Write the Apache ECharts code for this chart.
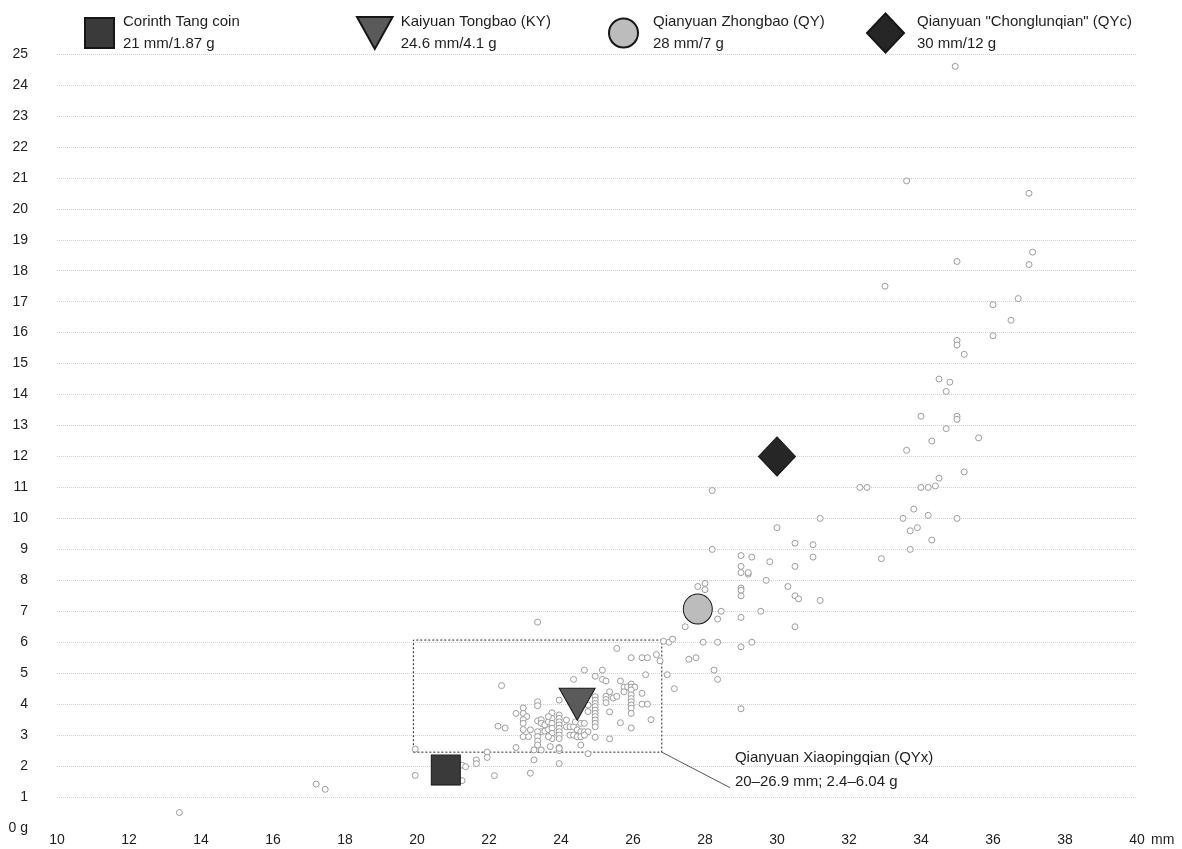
<!DOCTYPE html>
<html>
<head>
<meta charset="utf-8">
<script src="https://cdn.jsdelivr.net/npm/echarts@6/dist/echarts.min.js"></script>
<style>
  html, body { margin: 0; padding: 0; background: #fff; }
  #grafics { width: 1182px; height: 849px; }
</style>
</head>
<body>
<div id="grafics"></div>
<script>
// coins (diameter mm, weight g) as drawn on the picture
var coinNames = ['Corinth Tang coin', 'Kaiyuan Tongbao (KY)', 'Qianyuan Zhongbao (QY)', 'Qianyuan "Chonglunqian" (QYc)'];
var coinSubs = ['21 mm/1.87 g', '24.6 mm/4.1 g', '28 mm/7 g', '30 mm/12 g'];
var coinPoints = [[20.8, 1.87], [24.45, 4.0], [27.8, 7.07], [30.0, 12.0]];

// measured specimens (mm, g)
var specimens = [
  [13.4,0.5],[17.2,1.42],[17.45,1.25],[19.95,1.7],[19.95,2.55],
  [21.25,1.53],[21.25,2.03],[21.35,1.98],[21.65,2.2],[21.65,2.08],[21.95,2.45],[21.95,2.28],[22.15,1.69],
  [22.75,2.6],[23.15,1.77],[23.25,2.2],[23.95,2.08],[24.75,2.4],[23.25,2.52],[23.45,2.52],[23.7,2.63],
  [23.95,2.6],[23.95,2.5],
  [22.35,4.6],[22.25,3.29],[22.45,3.23],[22.75,3.7],[22.95,3.88],[22.95,3.7],[23.05,3.6],[22.95,3.5],
  [22.95,3.38],[22.95,3.18],[22.95,2.95],[23.1,2.95],[23.15,3.17],[23.35,4.08],[23.35,3.95],[23.35,3.46],
  [23.45,3.5],[23.45,3.38],[23.45,3.11],[23.55,3.13],[23.65,3.18],[23.35,3.11],[23.35,2.95],[23.35,2.81],
  [23.35,2.68],[23.55,3.33],[23.65,3.43],[23.75,3.54],[23.75,3.72],[23.65,3.6],[23.75,3.38],[23.75,3.22],
  [23.75,3.06],[23.75,2.89],[23.65,2.95],
  [23.95,4.13],[23.95,3.65],[23.95,3.54],[23.95,3.43],[23.95,3.33],[23.95,3.22],[23.95,3.11],[23.95,3.0],
  [23.95,2.89],[23.95,2.57],
  [24.15,3.49],[24.15,3.27],[24.25,3.27],[24.35,3.27],[24.25,3.0],[24.35,3.0],[24.4,3.43],[24.55,3.38],
  [24.65,3.38],[24.45,3.17],[24.55,3.11],[24.65,3.11],[24.75,3.11],[24.45,2.95],[24.55,2.95],[24.65,3.0],
  [24.55,2.68],[24.35,4.8],[24.65,5.1],[24.95,4.9],[25.15,5.1],[25.15,4.8],[25.25,4.75],[24.75,3.97],[24.75,3.76],
  [24.95,4.24],[24.95,4.13],[24.95,4.02],[24.95,3.92],[24.95,3.81],[24.95,3.7],[24.95,3.6],[24.95,3.49],
  [24.95,3.38],[24.95,3.27],[24.95,2.93],
  [25.35,4.4],[25.25,4.25],[25.25,4.15],[25.25,4.05],[25.45,4.2],[25.55,4.25],[25.35,3.75],[25.65,3.4],
  [25.35,2.88],[25.55,5.8],[25.65,4.75],[25.75,4.55],[25.75,4.4],[25.85,4.56],[25.95,4.65],[25.95,4.55],
  [26.05,4.55],[25.95,4.46],
  [25.95,4.3],[25.95,4.18],[25.95,4.08],[25.95,3.97],[25.95,3.87],[25.95,3.7],[25.95,3.23],
  [26.25,4.35],[26.25,4.0],[26.4,4.0],[26.5,3.5],[25.95,5.5],[26.25,5.5],[26.4,5.5],[26.35,4.95],[26.95,4.95],
  [26.65,5.6],[26.75,5.4],[26.85,6.03],[27.0,6.0],[27.1,6.1],[27.15,4.5],[27.55,5.45],[27.75,5.5],[23.35,6.65],
  [27.45,6.5],[27.95,6.0],[28.35,6.0],[29.3,6.0],[29.0,5.85],[28.25,5.1],[28.35,4.8],[29.0,3.85],[28.45,7.0],
  [28.35,6.75],[29.55,7.0],[29.0,6.8],[30.5,6.5],
  [27.8,7.8],[28.0,7.9],[28.0,7.7],[29.0,7.75],[29.0,7.68],[29.0,7.5],[30.5,7.5],[30.6,7.4],[31.2,7.35],
  [30.3,7.8],[29.7,8.0],[29.0,8.45],[29.0,8.25],[29.2,8.2],[29.2,8.25],[30.5,8.45],[29.8,8.6],[29.3,8.75],
  [31.0,8.75],[32.9,8.7],[29.0,8.8],[28.2,9.0],[33.7,9.0],[30.5,9.2],[31.0,9.15],[34.3,9.3],[33.7,9.6],
  [33.9,9.7],[30.0,9.7],[31.2,10.0],[33.5,10.0],[34.2,10.1],[35.0,10.0],[33.8,10.3],[28.2,10.9],[32.3,11.0],
  [32.5,11.0],[34.0,11.0],[34.2,11.0],[34.4,11.05],[34.5,11.3],[35.2,11.5],[33.6,12.2],[34.3,12.5],[35.6,12.6],
  [34.7,12.9],[34.0,13.3],[35.0,13.3],[35.0,13.2],[34.5,14.5],[34.8,14.4],[34.7,14.1],[35.2,15.3],[35.0,15.75],
  [35.0,15.6],[36.0,15.9],[36.5,16.4],[36.0,16.9],[36.7,17.1],[33.0,17.5],[35.0,18.3],[37.0,18.2],[37.1,18.6],
  [33.6,20.9],[37.0,20.5],[34.95,24.6]
];

// Xiaopingqian range box and its callout
var qyxBox = [[19.9, 2.45], [26.8, 6.07]];
var qyxLeader = [[26.8, 2.45], [28.7, 1.3]];
var qyxText = ['Qianyuan Xiaopingqian (QYx)', '20\u201326.9 mm; 2.4\u20136.04 g'];
var qyxTextAt = [28.83, 2.66];

var font = '"Liberation Sans", Arial, sans-serif';
var coinSymbols = ['rect', 'path://M0,0L20,0L10,18Z', 'circle', 'diamond'];
var coinSizes = [[29, 30], [36, 32], [29, 30], [37, 39]];
var coinColors = ['#3a3a3a', '#5a5a5a', '#bcbcbc', '#262626'];
var legendLeft = [84, 356, 608, 866];
var legendGap = [4, 3, 10, 8];

var dom = document.getElementById('grafics');
var myChart = echarts.init(dom, null, { renderer: 'canvas' });

var series = [{
  name: 'specimens',
  type: 'scatter',
  data: specimens,
  symbol: 'circle',
  symbolSize: 6,
  itemStyle: { color: '#fff', borderColor: '#9c9c9c', borderWidth: 1, opacity: 1 },
  z: 2,
  markArea: {
    silent: true,
    itemStyle: { color: 'rgba(0,0,0,0)', borderColor: '#222', borderWidth: 1, borderType: [2, 2], opacity: 1 },
    data: [[{ coord: qyxBox[0] }, { coord: qyxBox[1] }]]
  },
  markLine: {
    silent: true,
    symbol: ['none', 'none'],
    label: { show: false },
    lineStyle: { color: '#555', width: 1, type: 'solid', opacity: 1 },
    data: [[{ coord: qyxLeader[0] }, { coord: qyxLeader[1] }]]
  }
}];

var legends = [];
coinNames.forEach(function (name, i) {
  series.push({
    name: name,
    type: 'scatter',
    data: [coinPoints[i]],
    symbol: coinSymbols[i],
    symbolSize: coinSizes[i],
    itemStyle: { color: coinColors[i], borderColor: '#161616', borderWidth: 1, opacity: 1 },
    z: 5
  });
  legends.push({
    data: [name],
    left: legendLeft[i],
    top: 11,
    padding: 0,
    selectedMode: false,
    itemWidth: coinSizes[i][0],
    itemHeight: coinSizes[i][1],
    formatter: function (n) { return n + '\n' + coinSubs[i]; },
    textStyle: { fontFamily: font, fontSize: 15, lineHeight: 22, color: '#1e1e1e', padding: [0, 0, 0, legendGap[i]] }
  });
});

var option = {
  animation: false,
  backgroundColor: '#fff',
  textStyle: { fontFamily: font },
  grid: { left: 57, right: 45, top: 54, bottom: 21 },
  legend: legends,
  xAxis: {
    type: 'value',
    min: 10, max: 40, interval: 2,
    name: 'mm',
    nameLocation: 'end',
    nameGap: 14,
    nameTextStyle: { fontFamily: font, fontSize: 14, color: '#1e1e1e', verticalAlign: 'top', padding: [5, 0, 0, 0] },
    axisLine: { show: false },
    axisTick: { show: false },
    splitLine: { show: false },
    axisLabel: { margin: 5, fontSize: 14, color: '#1e1e1e', fontFamily: font }
  },
  yAxis: {
    type: 'value',
    min: 0, max: 25, interval: 1,
    axisLine: { show: false },
    axisTick: { show: false },
    axisLabel: {
      margin: 29, fontSize: 14, color: '#1e1e1e', fontFamily: font,
      formatter: function (v) { return v === 0 ? '0 g' : v; }
    },
    splitLine: { show: true, showMinLine: false, lineStyle: { color: '#d2d2d2', width: 1, type: 'dotted' } }
  },
  series: series
};

if (option && typeof option === 'object') {
  myChart.setOption(option);
}

// callout text next to the leader line
var p = myChart.convertToPixel({ gridIndex: 0 }, qyxTextAt);
myChart.setOption({
  graphic: [{
    type: 'text',
    x: p[0], y: p[1],
    silent: true,
    style: { text: qyxText.join('\n'), font: '15px ' + font, fill: '#1e1e1e', lineHeight: 24, verticalAlign: 'top' }
  }]
});

window.addEventListener('resize', myChart.resize);
</script>
</body>
</html>
